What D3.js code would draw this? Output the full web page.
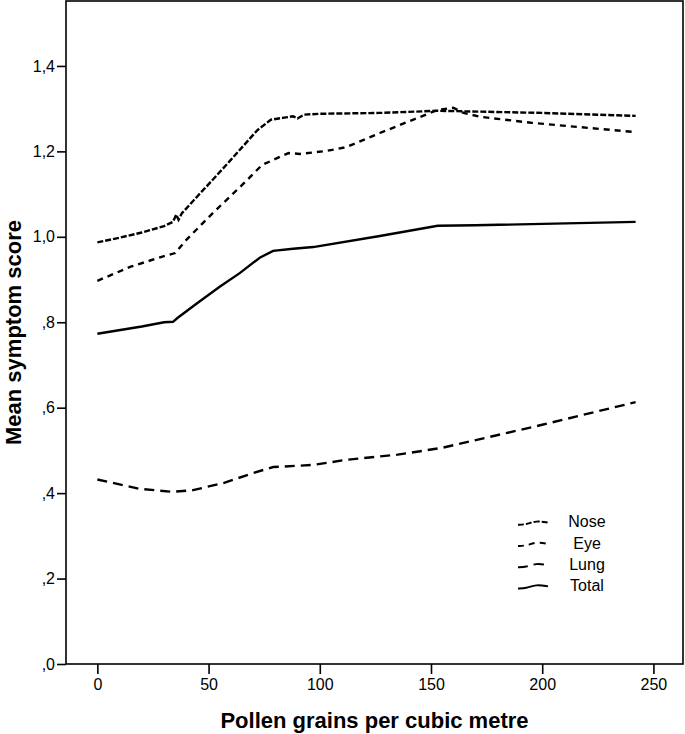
<!DOCTYPE html>
<html>
<head>
<meta charset="utf-8">
<script src="https://cdn.jsdelivr.net/npm/d3@7"></script>
<style>
  body { margin: 0; background: #fff; }
  text { font-family: 'Liberation Sans', Arial, sans-serif; fill: #000; }
</style>
</head>
<body>
<script>
// tick values and their labels (comma decimal, no leading zero)
const xTicks = [0, 50, 100, 150, 200, 250]
const yTicks = [0, 0.2, 0.4, 0.6, 0.8, 1.0, 1.2, 1.4]
const yTickLabels = [',0', ',2', ',4', ',6', ',8', '1,0', '1,2', '1,4']

const seriesNames = ['Nose', 'Eye', 'Lung', 'Total']

// pollen count / mean score pairs
const noseX = [0, 10, 20, 30, 34, 35.5, 36.5, 38, 45, 53, 60, 66, 72, 78, 84, 88, 90, 93, 100, 127, 153, 200, 242]
const noseY = [0.987, 0.998, 1.01, 1.025, 1.035, 1.052, 1.04, 1.055, 1.095, 1.14, 1.18, 1.215, 1.25, 1.274, 1.279, 1.282, 1.277, 1.286, 1.288, 1.29, 1.295, 1.29, 1.283]

const eyeX = [0, 15, 30, 35, 40, 52, 66, 74, 82, 86, 91, 103, 112, 127, 140, 153, 160, 164.6, 172, 195, 242]
const eyeY = [0.897, 0.93, 0.955, 0.962, 0.993, 1.056, 1.126, 1.168, 1.187, 1.196, 1.194, 1.201, 1.21, 1.243, 1.27, 1.297, 1.302, 1.29, 1.281, 1.267, 1.245]

const lungX = [0, 19, 34, 43, 57, 70, 79, 97, 112, 135, 155, 200, 242]
const lungY = [0.432, 0.41, 0.403, 0.407, 0.424, 0.447, 0.461, 0.466, 0.478, 0.49, 0.506, 0.56, 0.613]

const totalX = [0, 20, 30, 34, 36, 45, 55, 64, 73, 79, 88, 97, 127, 153, 170, 242]
const totalY = [0.773, 0.79, 0.8, 0.801, 0.81, 0.845, 0.883, 0.915, 0.951, 0.967, 0.972, 0.976, 1.002, 1.026, 1.027, 1.035]

const width = 685
const height = 734
const margin = {top: 1, right: 2, bottom: 70, left: 66}

const x = d3.scaleLinear().domain([-14.1, 263.3]).range([margin.left, width - margin.right])
const y = d3.scaleLinear().domain([0, 1.552]).range([height - margin.bottom, margin.top])

const svg = d3.select('body').append('svg').attr('width', width).attr('height', height)

const series = [
  {name: 'Nose', xs: noseX, ys: noseY, dash: '6,2'},
  {name: 'Eye', xs: eyeX, ys: eyeY, dash: '6,5'},
  {name: 'Lung', xs: lungX, ys: lungY, dash: '10,6'},
  {name: 'Total', xs: totalX, ys: totalY, dash: null},
]

const line = d3.line().x(d => x(d[0])).y(d => y(d[1]))

svg.selectAll('.series')
   .data(series)
   .enter()
   .append('path')
   .attr('class', 'series')
   .attr('fill', 'none')
   .attr('stroke', '#000')
   .attr('stroke-width', 2.4)
   .attr('stroke-dasharray', d => d.dash)
   .attr('d', d => line(d3.zip(d.xs, d.ys)))

// frame
svg.append('rect')
   .attr('x', x.range()[0]).attr('y', y.range()[1])
   .attr('width', x.range()[1] - x.range()[0])
   .attr('height', y.range()[0] - y.range()[1])
   .attr('fill', 'none').attr('stroke', '#000').attr('stroke-width', 1.6)

// axes
const xAxis = svg.append('g')
   .attr('transform', 'translate(0,' + y(0) + ')')
   .call(d3.axisBottom(x).tickValues(xTicks).tickSize(10).tickPadding(5).tickSizeOuter(0))
xAxis.select('.domain').remove()

const yAxis = svg.append('g')
   .attr('transform', 'translate(' + x.range()[0] + ',0)')
   .call(d3.axisLeft(y).tickValues(yTicks).tickSize(9).tickPadding(2).tickSizeOuter(0)
           .tickFormat((d, i) => yTickLabels[i]))
yAxis.select('.domain').remove()

svg.selectAll('.tick line').attr('stroke', '#000').attr('stroke-width', 1.6)
svg.selectAll('.tick text').style('font-size', '16px').style('font-family', "'Liberation Sans', Arial, sans-serif")

// axis titles
const cx = (x.range()[0] + x.range()[1]) / 2
const cy = (y.range()[0] + y.range()[1]) / 2
svg.append('text')
   .attr('x', cx).attr('y', 728)
   .attr('text-anchor', 'middle')
   .style('font-size', '22px').style('font-weight', 'bold')
   .text('Pollen grains per cubic metre')

svg.append('text')
   .attr('transform', 'translate(21,' + cy + ') rotate(-90)')
   .attr('text-anchor', 'middle')
   .style('font-size', '22px').style('font-weight', 'bold')
   .text('Mean symptom score')

// legend
const legendY = d3.scaleBand().domain(seriesNames).range([511, 596])
const sample = d3.line().curve(d3.curveBasis)
const sampleShape = [[0, 3], [8, 3], [18, -1], [30, 1]]

const item = svg.selectAll('.legend')
   .data(series)
   .enter()
   .append('g')
   .attr('transform', d => 'translate(518,' + (legendY(d.name) + legendY.bandwidth() / 2) + ')')

item.append('path')
   .attr('fill', 'none').attr('stroke', '#000').attr('stroke-width', 2)
   .attr('stroke-dasharray', d => d.dash)
   .attr('d', sample(sampleShape))

item.append('text')
   .attr('x', 69).attr('dy', '0.36em')
   .attr('text-anchor', 'middle')
   .style('font-size', '16px')
   .text(d => d.name)
</script>
</body>
</html>
